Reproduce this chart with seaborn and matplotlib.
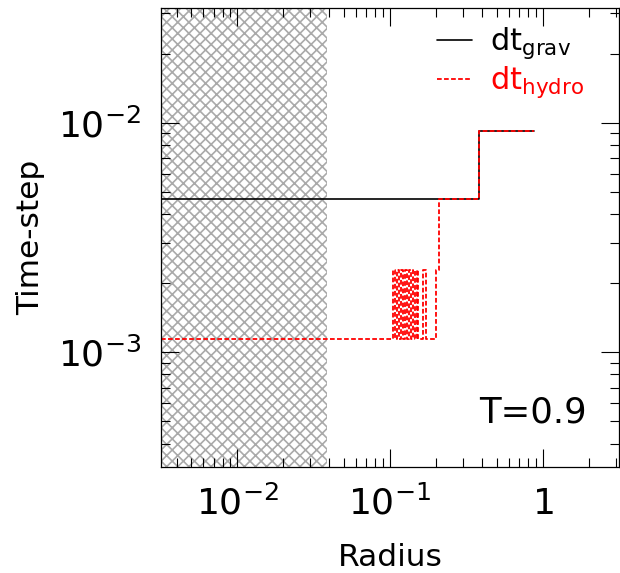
import numpy as np
import pandas as pd
import matplotlib
matplotlib.use("Agg")
import matplotlib.pyplot as plt
import seaborn as sns
from matplotlib.ticker import FixedLocator, LogLocator, NullFormatter

# ---- data ----
grav_r = [0.00316, 0.381, 0.873]
grav_dt = [4.63e-3, 9.19e-3, 9.19e-3]

hydro_r = [0.00316, 0.1041, 0.1074, 0.1106, 0.1140, 0.1175, 0.1211, 0.1248,
           0.1287, 0.1326, 0.1367, 0.1408, 0.1451, 0.1496, 0.1519, 0.1637,
           0.1726, 0.2013, 0.2090, 0.381, 0.873]
hydro_dt = [1.147e-3, 2.29e-3, 1.147e-3, 2.29e-3, 1.147e-3, 2.29e-3, 1.147e-3,
            2.29e-3, 1.147e-3, 2.29e-3, 1.147e-3, 2.29e-3, 1.147e-3, 2.29e-3,
            1.147e-3, 2.29e-3, 1.147e-3, 2.29e-3, 4.63e-3, 9.19e-3, 9.19e-3]

hatch_r = [0.00316, 0.0385]
xlim = [10 ** -2.5, 10 ** 0.5]
ylim = [10 ** -3.5, 10 ** -1.5]
xticks = [1e-2, 1e-1, 1.0]
xticklabels = [r'$\mathdefault{10^{-2}}$', r'$\mathdefault{10^{-1}}$', r'$\mathdefault{1}$']
yticks = [1e-3, 1e-2]
yticklabels = [r'$\mathdefault{10^{-3}}$', r'$\mathdefault{10^{-2}}$']
labels = [r'$\mathdefault{dt_{grav}}$', r'$\mathdefault{dt_{hydro}}$']
annotation = "T=0.9"

sns.set_theme(style="ticks")
plt.rcParams['font.family'] = ['DejaVu Sans']
plt.rcParams['mathtext.fontset'] = 'dejavusans'
plt.rcParams['text.color'] = 'black'
plt.rcParams['axes.labelcolor'] = 'black'
plt.rcParams['xtick.color'] = 'black'
plt.rcParams['ytick.color'] = 'black'
plt.rcParams['hatch.linewidth'] = 1.2

fig = plt.figure(figsize=(6.20, 5.73), dpi=100)
ax = fig.add_axes([161 / 620, 1 - 467 / 573, 458 / 620, 459 / 573])
ax.set_xscale('log')
ax.set_yscale('log')

ax.axvspan(hatch_r[0], hatch_r[1], facecolor='none', edgecolor='#aaaaaa',
           hatch='xxx', linewidth=0, zorder=0)

df_g = pd.DataFrame({'r': grav_r, 'dt': grav_dt})
df_h = pd.DataFrame({'r': hydro_r, 'dt': hydro_dt})
sns.lineplot(data=df_g, x='r', y='dt', ax=ax, color='black', lw=1.2,
             estimator=None, sort=False, drawstyle='steps-post', label=labels[0])
sns.lineplot(data=df_h, x='r', y='dt', ax=ax, color='red', lw=1.3,
             estimator=None, sort=False, drawstyle='steps-post',
             linestyle=(0, (2.6, 1.3)), label=labels[1])

ax.set_xlim(xlim)
ax.set_ylim(ylim)

ax.xaxis.set_major_locator(FixedLocator(xticks))
ax.set_xticklabels(xticklabels)
ax.yaxis.set_major_locator(FixedLocator(yticks))
ax.set_yticklabels(yticklabels)
ax.xaxis.set_minor_locator(LogLocator(base=10, subs=np.arange(2, 10)))
ax.yaxis.set_minor_locator(LogLocator(base=10, subs=np.arange(2, 10)))
ax.xaxis.set_minor_formatter(NullFormatter())
ax.yaxis.set_minor_formatter(NullFormatter())

ax.tick_params(which='both', direction='in', top=True, right=True,
               color='black', labelcolor='black', width=0.8)
ax.tick_params(which='major', length=13)
ax.tick_params(which='minor', length=6.8)
ax.tick_params(axis='x', which='major', labelsize=26, pad=34)
ax.tick_params(axis='y', which='major', labelsize=26, pad=14)
for t in ax.xaxis.get_major_ticks():
    t.label1.set_va('baseline')

for s in ax.spines.values():
    s.set_color('black')
    s.set_linewidth(0.9)

ax.set_xlabel('Radius', fontsize=22.5, color='black')
ax.set_ylabel('Time-step', fontsize=22.5, color='black')
ax.xaxis.set_label_coords(0.5, -0.166)
ax.yaxis.set_label_coords(-0.253, 0.5)

leg = ax.legend(loc='upper left', bbox_to_anchor=(0.603, 0.962), frameon=False,
                fontsize=22, handlelength=1.15, handletextpad=0.59,
                labelspacing=0.1, borderpad=0, borderaxespad=0,
                labelcolor=['black', 'red'])

ax.text(0.930, 0.096, annotation, transform=ax.transAxes, ha='right',
        va='baseline', fontsize=25.5, color='black')

fig.savefig('out.png', dpi=100)
